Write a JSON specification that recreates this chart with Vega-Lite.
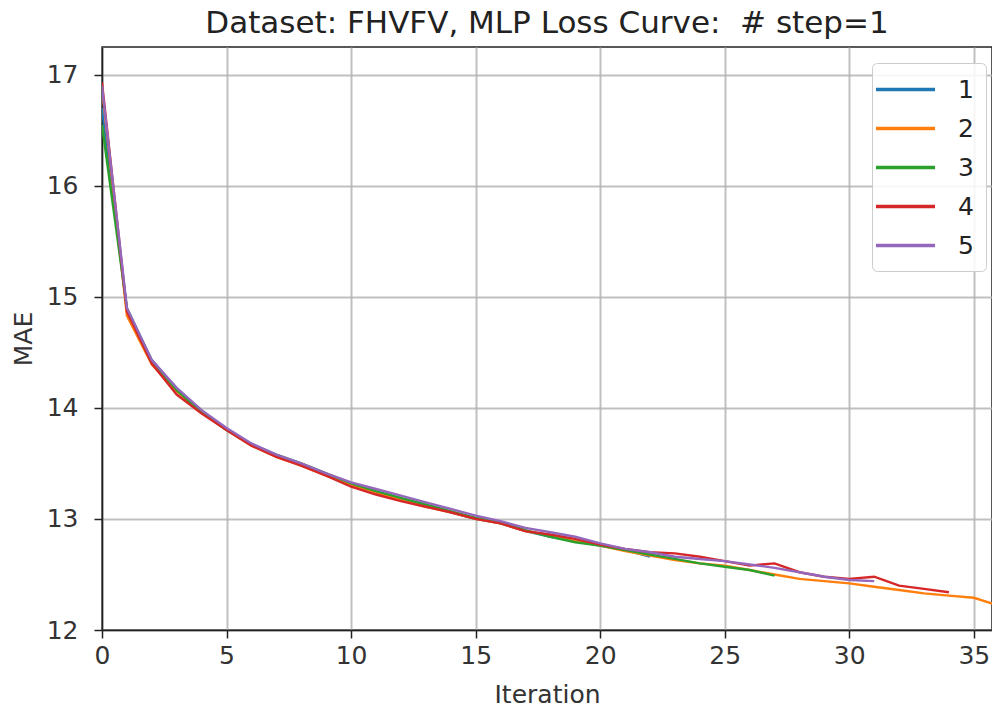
{
  "$schema": "https://vega.github.io/schema/vega-lite/v6.json",
  "autosize": {"type": "none"},
  "padding": {"left": 102, "top": 47, "right": 0, "bottom": 87},
  "width": 890,
  "height": 583,
  "background": "white",
  "title": {"text": "Dataset: FHVFV, MLP Loss Curve: \u00a0# step=1", "font": "DejaVu Sans", "fontSize": 31, "fontWeight": "normal", "color": "#222222", "offset": 7},
  "config": {
    "view": {"stroke": "#222222", "strokeWidth": 1.5},
    "axis": {
      "labelFont": "DejaVu Sans", "labelFontSize": 25, "labelColor": "#333333",
      "titleFont": "DejaVu Sans", "titleFontSize": 25, "titleFontWeight": "normal", "titleColor": "#333333",
      "domainColor": "#222222", "domainWidth": 1.5,
      "tickColor": "#222222", "tickWidth": 1.5, "tickSize": 8,
      "gridColor": "#b0b0b0", "gridWidth": 2, "gridOpacity": 0.8
    }
  },
  "data": {"values": [
    {"s":"1","x":0,"v":16.70},{"s":"1","x":1,"v":14.89},{"s":"1","x":2,"v":14.43},{"s":"1","x":3,"v":14.17},{"s":"1","x":4,"v":13.97},{"s":"1","x":5,"v":13.80},{"s":"1","x":6,"v":13.67},{"s":"1","x":7,"v":13.57},{"s":"1","x":8,"v":13.49},{"s":"1","x":9,"v":13.40},{"s":"1","x":10,"v":13.31},{"s":"1","x":11,"v":13.24},{"s":"1","x":12,"v":13.18},{"s":"1","x":13,"v":13.12},{"s":"1","x":14,"v":13.06},{"s":"1","x":15,"v":13.00},{"s":"1","x":16,"v":12.96},{"s":"1","x":17,"v":12.89},{"s":"1","x":18,"v":12.84},{"s":"1","x":19,"v":12.80},{"s":"1","x":20,"v":12.76},{"s":"1","x":21,"v":12.72},{"s":"1","x":22,"v":12.66},
    {"s":"2","x":0,"v":16.88},{"s":"2","x":1,"v":14.83},{"s":"2","x":2,"v":14.39},{"s":"2","x":3,"v":14.15},{"s":"2","x":4,"v":13.96},{"s":"2","x":5,"v":13.80},{"s":"2","x":6,"v":13.66},{"s":"2","x":7,"v":13.56},{"s":"2","x":8,"v":13.48},{"s":"2","x":9,"v":13.39},{"s":"2","x":10,"v":13.31},{"s":"2","x":11,"v":13.24},{"s":"2","x":12,"v":13.17},{"s":"2","x":13,"v":13.11},{"s":"2","x":14,"v":13.06},{"s":"2","x":15,"v":13.00},{"s":"2","x":16,"v":12.96},{"s":"2","x":17,"v":12.89},{"s":"2","x":18,"v":12.85},{"s":"2","x":19,"v":12.80},{"s":"2","x":20,"v":12.76},{"s":"2","x":21,"v":12.71},{"s":"2","x":22,"v":12.67},{"s":"2","x":23,"v":12.63},{"s":"2","x":24,"v":12.60},{"s":"2","x":25,"v":12.58},{"s":"2","x":26,"v":12.54},{"s":"2","x":27,"v":12.50},{"s":"2","x":28,"v":12.46},{"s":"2","x":29,"v":12.44},{"s":"2","x":30,"v":12.42},{"s":"2","x":31,"v":12.39},{"s":"2","x":32,"v":12.36},{"s":"2","x":33,"v":12.33},{"s":"2","x":34,"v":12.31},{"s":"2","x":35,"v":12.29},{"s":"2","x":36,"v":12.22},
    {"s":"3","x":0,"v":16.55},{"s":"3","x":1,"v":14.90},{"s":"3","x":2,"v":14.42},{"s":"3","x":3,"v":14.16},{"s":"3","x":4,"v":13.96},{"s":"3","x":5,"v":13.80},{"s":"3","x":6,"v":13.67},{"s":"3","x":7,"v":13.58},{"s":"3","x":8,"v":13.50},{"s":"3","x":9,"v":13.41},{"s":"3","x":10,"v":13.32},{"s":"3","x":11,"v":13.25},{"s":"3","x":12,"v":13.19},{"s":"3","x":13,"v":13.13},{"s":"3","x":14,"v":13.07},{"s":"3","x":15,"v":13.01},{"s":"3","x":16,"v":12.97},{"s":"3","x":17,"v":12.90},{"s":"3","x":18,"v":12.84},{"s":"3","x":19,"v":12.79},{"s":"3","x":20,"v":12.76},{"s":"3","x":21,"v":12.72},{"s":"3","x":22,"v":12.68},{"s":"3","x":23,"v":12.64},{"s":"3","x":24,"v":12.60},{"s":"3","x":25,"v":12.57},{"s":"3","x":26,"v":12.54},{"s":"3","x":27,"v":12.49},
    {"s":"4","x":0,"v":16.93},{"s":"4","x":1,"v":14.87},{"s":"4","x":2,"v":14.40},{"s":"4","x":3,"v":14.12},{"s":"4","x":4,"v":13.95},{"s":"4","x":5,"v":13.80},{"s":"4","x":6,"v":13.66},{"s":"4","x":7,"v":13.56},{"s":"4","x":8,"v":13.48},{"s":"4","x":9,"v":13.39},{"s":"4","x":10,"v":13.29},{"s":"4","x":11,"v":13.22},{"s":"4","x":12,"v":13.16},{"s":"4","x":13,"v":13.11},{"s":"4","x":14,"v":13.06},{"s":"4","x":15,"v":13.00},{"s":"4","x":16,"v":12.96},{"s":"4","x":17,"v":12.89},{"s":"4","x":18,"v":12.86},{"s":"4","x":19,"v":12.82},{"s":"4","x":20,"v":12.77},{"s":"4","x":21,"v":12.73},{"s":"4","x":22,"v":12.70},{"s":"4","x":23,"v":12.69},{"s":"4","x":24,"v":12.66},{"s":"4","x":25,"v":12.62},{"s":"4","x":26,"v":12.58},{"s":"4","x":27,"v":12.60},{"s":"4","x":28,"v":12.52},{"s":"4","x":29,"v":12.48},{"s":"4","x":30,"v":12.46},{"s":"4","x":31,"v":12.48},{"s":"4","x":32,"v":12.40},{"s":"4","x":33,"v":12.37},{"s":"4","x":34,"v":12.34},
    {"s":"5","x":0,"v":16.90},{"s":"5","x":1,"v":14.90},{"s":"5","x":2,"v":14.43},{"s":"5","x":3,"v":14.18},{"s":"5","x":4,"v":13.98},{"s":"5","x":5,"v":13.82},{"s":"5","x":6,"v":13.68},{"s":"5","x":7,"v":13.58},{"s":"5","x":8,"v":13.50},{"s":"5","x":9,"v":13.41},{"s":"5","x":10,"v":13.33},{"s":"5","x":11,"v":13.27},{"s":"5","x":12,"v":13.21},{"s":"5","x":13,"v":13.15},{"s":"5","x":14,"v":13.09},{"s":"5","x":15,"v":13.03},{"s":"5","x":16,"v":12.98},{"s":"5","x":17,"v":12.92},{"s":"5","x":18,"v":12.88},{"s":"5","x":19,"v":12.84},{"s":"5","x":20,"v":12.78},{"s":"5","x":21,"v":12.73},{"s":"5","x":22,"v":12.70},{"s":"5","x":23,"v":12.66},{"s":"5","x":24,"v":12.64},{"s":"5","x":25,"v":12.62},{"s":"5","x":26,"v":12.59},{"s":"5","x":27,"v":12.56},{"s":"5","x":28,"v":12.52},{"s":"5","x":29,"v":12.48},{"s":"5","x":30,"v":12.45},{"s":"5","x":31,"v":12.44}
  ]},
  "mark": {"type": "line", "strokeWidth": 2.4, "clip": true},
  "encoding": {
    "x": {"field": "x", "type": "quantitative", "title": "Iteration",
      "scale": {"domain": [0, 35.73], "nice": false, "zero": false},
      "axis": {"values": [0, 5, 10, 15, 20, 25, 30, 35], "labelPadding": 5, "titlePadding": 14, "labelFlush": false}},
    "y": {"field": "v", "type": "quantitative", "title": "MAE",
      "scale": {"domain": [12, 17.25], "nice": false, "zero": false},
      "axis": {"values": [12, 13, 14, 15, 16, 17], "labelPadding": 16, "titlePadding": 10, "labelFlush": false}},
    "color": {"field": "s", "type": "nominal",
      "scale": {"domain": ["1", "2", "3", "4", "5"], "range": ["#1f77b4", "#ff7f0e", "#2ca02c", "#d62728", "#9467bd"]},
      "legend": {"title": null, "orient": "none", "legendX": 770, "legendY": 16,
        "symbolType": "M-1.8,0H2.92", "symbolSize": 625, "symbolStrokeWidth": 3.5,
        "labelFont": "DejaVu Sans", "labelFontSize": 25, "labelColor": "#222222", "labelOffset": 45,
        "rowPadding": 11, "padding": 12, "strokeColor": "#cccccc", "fillColor": "rgba(255,255,255,0.85)", "cornerRadius": 5}}
  }
}
